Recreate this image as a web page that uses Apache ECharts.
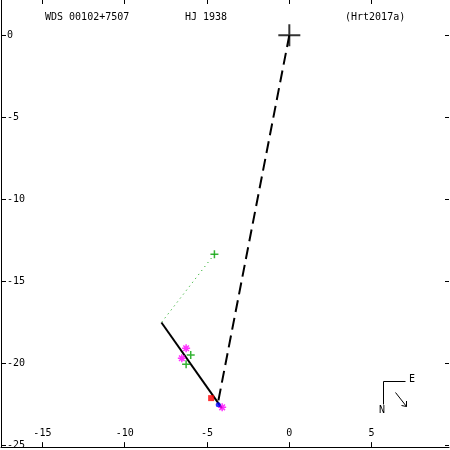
<!DOCTYPE html>
<html><head><meta charset="utf-8">
<script src="https://cdn.jsdelivr.net/npm/echarts@6/dist/echarts.min.js"></script>
<style>html,body{margin:0;padding:0;background:#fff}#c{width:450px;height:450px}</style>
</head><body><div id="c"></div>
<script>
// Data
const xTicks = [-15, -10, -5, 0, 5];
const yTicks = [0, -5, -10, -15, -20, -25];
const primary = [[0, 0]];
const orbitLine = [[-7.77, -17.53], [-4.10, -22.75]];
const nodeLine = [[0, 0], [-4.35, -22.5]];
const ocLine = [[-4.55, -13.36], [-7.77, -17.53]];
const greenPlus = [[-4.55, -13.36], [-5.99, -19.51], [-6.27, -20.08]];
const magentaStar = [[-6.27, -19.10], [-6.53, -19.71], [-4.08, -22.70]];
const redSquare = [[-4.75, -22.14]];
const blueCircle = [[-4.32, -22.55]];
const titleLeft = 'WDS 00102+7507';
const titleMid = 'HJ 1938';
const titleRight = '(Hrt2017a)';

const FONT = 'DejaVu Sans Mono';
const plusPath = 'path://M0,-1L0,1M-1,0L1,0';
const starPath = 'path://M0,-1L0,1M-1,0L1,0M-0.7,-0.7L0.7,0.7M-0.7,0.7L0.7,-0.7';

const chart = echarts.init(document.getElementById('c'), null, {renderer: 'canvas'});
chart.setOption({
  animation: false,
  backgroundColor: '#fff',
  grid: {left: 1, right: 1, top: 0, bottom: 1, containLabel: false},
  xAxis: [{
    type: 'value', min: -17.515, max: 9.70, position: 'bottom',
    axisLine: {show: true, onZero: false, lineStyle: {color: '#000', width: 1}},
    axisTick: {show: true, inside: true, length: 5, customValues: xTicks, lineStyle: {color: '#000'}},
    axisLabel: {show: true, inside: true, margin: 9, customValues: xTicks, color: '#000', fontFamily: FONT, fontSize: 10},
    splitLine: {show: false}
  }, {
    type: 'value', min: -17.515, max: 9.70, position: 'top',
    axisLine: {show: false, onZero: false},
    axisTick: {show: true, inside: true, length: 4, customValues: xTicks, lineStyle: {color: '#000'}},
    axisLabel: {show: false},
    splitLine: {show: false}
  }],
  yAxis: [{
    type: 'value', min: -25.13, max: 2.145, position: 'left',
    axisLine: {show: true, onZero: false, lineStyle: {color: '#000', width: 1}},
    axisTick: {show: true, inside: true, length: 5, customValues: yTicks, lineStyle: {color: '#000'}},
    axisLabel: {show: true, inside: true, margin: 6, customValues: yTicks, color: '#000', fontFamily: FONT, fontSize: 10},
    splitLine: {show: false}
  }, {
    type: 'value', min: -25.13, max: 2.145, position: 'right',
    axisLine: {show: false, onZero: false},
    axisTick: {show: true, inside: true, length: 4, customValues: yTicks, lineStyle: {color: '#000'}},
    axisLabel: {show: false},
    splitLine: {show: false}
  }],
  series: [
    {type: 'line', data: ocLine, symbol: 'none', lineStyle: {color: '#00a000', width: 1, type: [1, 4]}, z: 2},
    {type: 'line', data: nodeLine, symbol: 'none', lineStyle: {color: '#000', width: 2, type: [12, 6]}, z: 2},
    {type: 'line', data: orbitLine, symbol: 'none', lineStyle: {color: '#000', width: 2}, z: 3},
    {type: 'scatter', data: primary, symbol: plusPath, symbolSize: 22,
      itemStyle: {color: 'rgba(0,0,0,0)', borderColor: '#000', borderWidth: 2}, z: 4},
    {type: 'scatter', data: greenPlus, symbol: plusPath, symbolSize: 8,
      itemStyle: {color: 'rgba(0,0,0,0)', borderColor: '#00a000', borderWidth: 1.5}, z: 4},
    {type: 'scatter', data: magentaStar, symbol: starPath, symbolSize: 8,
      itemStyle: {color: 'rgba(0,0,0,0)', borderColor: '#ff00ff', borderWidth: 1.5}, z: 4},
    {type: 'scatter', data: redSquare, symbol: 'rect', symbolSize: 6,
      itemStyle: {color: '#ff0000'}, z: 4},
    {type: 'scatter', data: blueCircle, symbol: 'circle', symbolSize: 5,
      itemStyle: {color: '#0000ff'}, z: 5}
  ],
  graphic: [
    {type: 'text', left: 45, top: 12, style: {text: titleLeft, font: '10px "' + FONT + '"', fill: '#000'}},
    {type: 'text', left: 185, top: 12, style: {text: titleMid, font: '10px "' + FONT + '"', fill: '#000'}},
    {type: 'text', left: 345, top: 12, style: {text: titleRight, font: '10px "' + FONT + '"', fill: '#000'}},
    {type: 'polyline', shape: {points: [[405.5, 381.5], [383.5, 381.5], [383.5, 404.5]]}, style: {stroke: '#000', lineWidth: 1, fill: null}},
    {type: 'text', left: 409, top: 374, style: {text: 'E', font: '10px "' + FONT + '"', fill: '#000'}},
    {type: 'text', left: 379, top: 405, style: {text: 'N', font: '10px "' + FONT + '"', fill: '#000'}},
    {type: 'line', shape: {x1: 395.5, y1: 392.5, x2: 406.5, y2: 406.5}, style: {stroke: '#000', lineWidth: 1}},
    {type: 'polyline', shape: {points: [[406.5, 401], [406.5, 406.5], [401.5, 405.5]]}, style: {stroke: '#000', lineWidth: 1, fill: null}}
  ]
});
</script></body></html>
